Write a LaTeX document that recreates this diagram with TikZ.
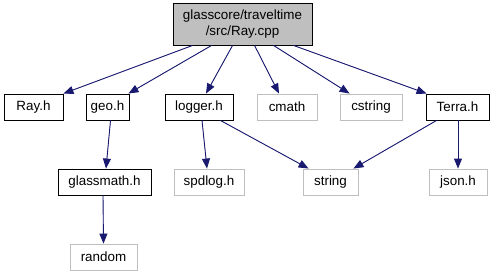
\documentclass[tikz,border=0pt]{standalone}
\usepackage{fontspec}
\setmainfont{Liberation Sans}
\usetikzlibrary{arrows.meta,positioning}
\definecolor{edgeblue}{HTML}{191970}
\definecolor{extgray}{HTML}{BFBFBF}
\definecolor{rootfill}{HTML}{BFBFBF}
\tikzset{
  file/.style={draw=black, line width=0.9pt, fill=white, inner sep=0pt,
    minimum height=26pt, font=\fontsize{13.4}{16}\selectfont, anchor=center},
  extfile/.style={file, draw=extgray},
  rootfile/.style={file, fill=rootfill, align=center, minimum height=42pt},
  dep/.style={draw=edgeblue, line width=0.9pt,
    -{Triangle[length=10pt,width=8pt]}, fill=edgeblue}
}
\begin{document}
\begin{tikzpicture}[x=1pt,y=-1pt]
\useasboundingbox (0,0) rectangle (495,276);

% source file
\node[rootfile, minimum width=139pt] (root) at (242.5,24)
  {glasscore/traveltime\\/src/Ray.cpp};

% direct includes
\node[file,    minimum width=59pt] (ray)     at (33.5,107)  {Ray.h};
\node[file,    minimum width=43pt] (geo)     at (107.5,107) {geo.h};
\node[file,    minimum width=68pt] (logger)  at (199,107)   {logger.h};
\node[extfile, minimum width=60pt] (cmath)   at (287,107)   {cmath};
\node[extfile, minimum width=62pt] (cstring) at (371,107)   {cstring};
\node[file,    minimum width=63pt] (terra)   at (457.5,107) {Terra.h};

% second level
\node[file,    minimum width=93pt] (glassmath) at (104.5,182) {glassmath.h};
\node[extfile, minimum width=70pt] (spdlog)    at (209,182)   {spdlog.h};
\node[extfile, minimum width=55pt] (string)    at (330.5,182) {string};
\node[extfile, minimum width=58pt] (json)      at (458,182)   {json.h};

% third level
\node[extfile, minimum width=67pt] (random) at (103.5,257) {random};

% include edges
\draw[dep] ([xshift=20pt]root.south west) -- (ray.north east);
\draw[dep] ([xshift=39pt]root.south west) -- ([xshift=-1pt]geo.north east);
\draw[dep] ([xshift=60pt]root.south west) -- ([xshift=7pt]logger.north);
\draw[dep] ([xshift=82pt]root.south west) -- ([xshift=-8pt]cmath.north);
\draw[dep] ([xshift=101pt]root.south west) -- ([xshift=10pt]cstring.north west);
\draw[dep] ([xshift=121pt]root.south west) -- ([xshift=1pt]terra.north west);

\draw[dep] ([xshift=3pt]geo.south) -- ([xshift=1.5pt]glassmath.north);
\draw[dep] ([xshift=3pt]logger.south) -- ([xshift=-2pt]spdlog.north);
\draw[dep] ([xshift=-13pt]logger.south east) -- ([xshift=6pt]string.north west);
\draw[dep] ([xshift=11pt]terra.south west) -- ([xshift=-5pt]string.north east);
\draw[dep] ([xshift=0.5pt]terra.south) -- (json.north);
\draw[dep] ([xshift=-1.5pt]glassmath.south) -- (random.north);
\end{tikzpicture}
\end{document}
